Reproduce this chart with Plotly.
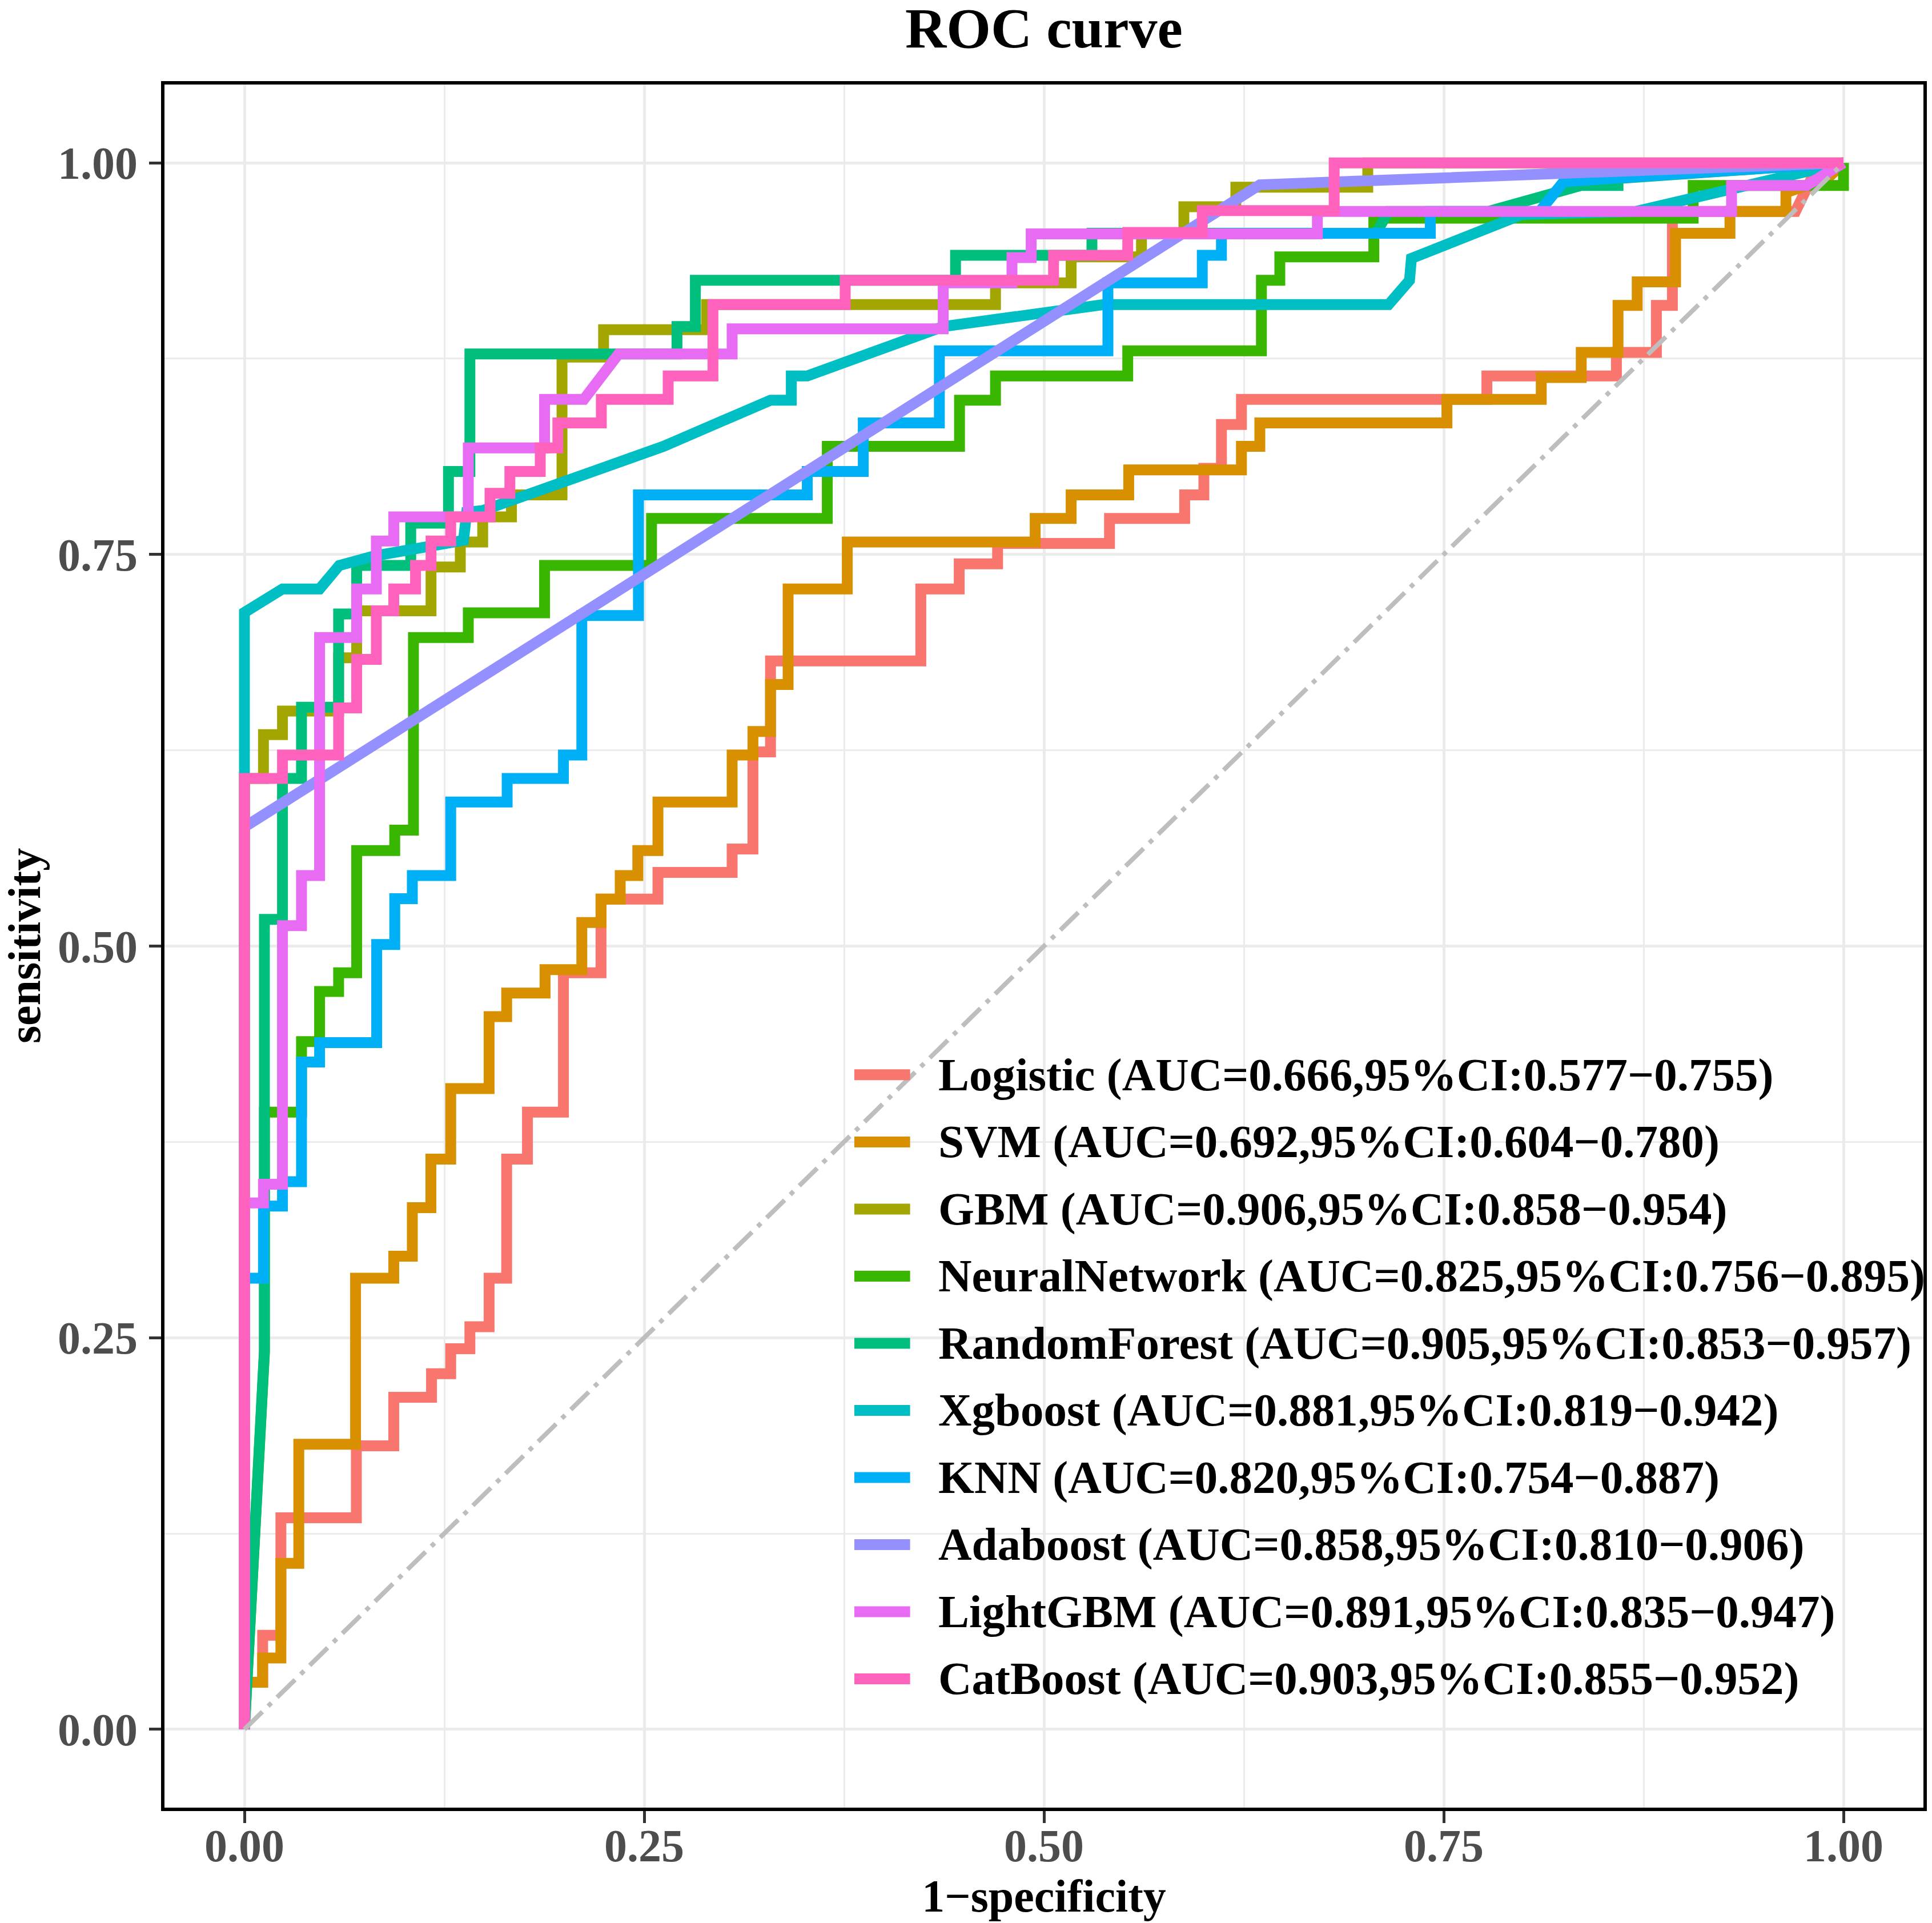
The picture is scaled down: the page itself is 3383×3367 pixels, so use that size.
import plotly.graph_objects as go

# ROC paths (1-specificity, sensitivity)
logistic_roc = [(0, 0), (0, 0.03), (0.0114, 0.03), (0.0114, 0.06), (0.0228, 0.06), (0.0228, 0.135),
                (0.070, 0.135), (0.070, 0.181), (0.0934, 0.181), (0.0934, 0.212), (0.117, 0.212),
                (0.117, 0.227), (0.129, 0.227), (0.129, 0.243), (0.141, 0.243), (0.141, 0.257),
                (0.153, 0.257), (0.153, 0.288), (0.164, 0.288), (0.164, 0.364), (0.177, 0.364),
                (0.177, 0.394), (0.1995, 0.394), (0.1995, 0.483), (0.223, 0.483), (0.223, 0.530),
                (0.2586, 0.530), (0.2586, 0.547), (0.305, 0.547), (0.305, 0.562), (0.318, 0.562),
                (0.318, 0.624), (0.329, 0.624), (0.329, 0.682), (0.423, 0.682), (0.423, 0.728),
                (0.447, 0.728), (0.447, 0.744), (0.471, 0.744), (0.471, 0.757), (0.541, 0.757),
                (0.541, 0.773), (0.588, 0.773), (0.588, 0.788), (0.600, 0.788), (0.600, 0.805),
                (0.611, 0.805), (0.611, 0.833), (0.6235, 0.833), (0.6235, 0.849), (0.777, 0.849),
                (0.777, 0.864), (0.858, 0.864), (0.858, 0.879), (0.883, 0.879), (0.883, 0.909),
                (0.893, 0.909), (0.893, 0.969), (0.97, 0.969), (0.98, 0.99), (1, 1)]

svm_roc = [(0, 0), (0, 0.03), (0.0114, 0.03), (0.0114, 0.0455), (0.0228, 0.0455), (0.0228, 0.106),
           (0.034, 0.106), (0.034, 0.182), (0.0695, 0.182), (0.0695, 0.288), (0.0934, 0.288),
           (0.0934, 0.302), (0.105, 0.302), (0.105, 0.333), (0.1166, 0.333), (0.1166, 0.364),
           (0.129, 0.364), (0.129, 0.409), (0.153, 0.409), (0.153, 0.455), (0.164, 0.455),
           (0.164, 0.470), (0.188, 0.470), (0.188, 0.485), (0.211, 0.485), (0.211, 0.515),
           (0.223, 0.515), (0.223, 0.530), (0.235, 0.530), (0.235, 0.545), (0.246, 0.545),
           (0.246, 0.561), (0.2586, 0.561), (0.2586, 0.592), (0.305, 0.592), (0.305, 0.622),
           (0.318, 0.622), (0.318, 0.637), (0.329, 0.637), (0.329, 0.667), (0.340, 0.667),
           (0.340, 0.728), (0.377, 0.728), (0.377, 0.758), (0.4945, 0.758), (0.4945, 0.773),
           (0.517, 0.773), (0.517, 0.788), (0.553, 0.788), (0.553, 0.804), (0.6235, 0.804),
           (0.6235, 0.819), (0.635, 0.819), (0.635, 0.834), (0.752, 0.834), (0.752, 0.849),
           (0.811, 0.849), (0.811, 0.863), (0.836, 0.863), (0.836, 0.879), (0.859, 0.879),
           (0.859, 0.909), (0.871, 0.909), (0.871, 0.924), (0.895, 0.924), (0.895, 0.955),
           (0.929, 0.955), (0.929, 0.969), (0.964, 0.969), (0.964, 0.981), (0.99, 0.99), (1, 1)]

gbm_roc = [(0, 0), (0, 0.607), (0.0119, 0.607), (0.0119, 0.635), (0.0238, 0.635), (0.0238, 0.65),
           (0.0589, 0.65), (0.0589, 0.684), (0.0702, 0.684), (0.0702, 0.714), (0.1167, 0.714),
           (0.1167, 0.742), (0.135, 0.742), (0.135, 0.758), (0.149, 0.758), (0.149, 0.774),
           (0.167, 0.774), (0.167, 0.788), (0.1986, 0.788), (0.1986, 0.876), (0.2246, 0.876),
           (0.2246, 0.8935), (0.289, 0.8935), (0.289, 0.9095), (0.4697, 0.9095), (0.4697, 0.9234),
           (0.517, 0.9234), (0.517, 0.94), (0.561, 0.94), (0.561, 0.955), (0.5875, 0.955),
           (0.5875, 0.972), (0.62, 0.972), (0.62, 0.9845), (0.7025, 0.9845), (0.7025, 1), (1, 1)]

nn_roc = [(0, 0), (0.0125, 0.24), (0.0125, 0.394), (0.0357, 0.394), (0.0357, 0.439), (0.047, 0.439),
          (0.047, 0.471), (0.0589, 0.471), (0.0589, 0.483), (0.0702, 0.483), (0.0702, 0.561),
          (0.094, 0.561), (0.094, 0.574), (0.1057, 0.574), (0.1057, 0.697), (0.140, 0.697),
          (0.140, 0.7127), (0.1877, 0.7127), (0.1877, 0.743), (0.2546, 0.743), (0.2546, 0.773),
          (0.3645, 0.773), (0.3645, 0.819), (0.4472, 0.819), (0.4472, 0.8485), (0.4697, 0.8485),
          (0.4697, 0.864), (0.5524, 0.864), (0.5524, 0.880), (0.636, 0.880), (0.636, 0.925),
          (0.6475, 0.925), (0.6475, 0.940), (0.7063, 0.940), (0.7063, 0.9647), (0.906, 0.9647),
          (0.906, 0.9856), (1, 0.9856), (1, 1)]

rf_roc = [(0, 0), (0.0125, 0.242), (0.0125, 0.517), (0.0238, 0.517), (0.0238, 0.607), (0.0357, 0.607),
          (0.0357, 0.6525), (0.0589, 0.6525), (0.0589, 0.712), (0.0702, 0.712), (0.0702, 0.743),
          (0.104, 0.743), (0.104, 0.77), (0.1276, 0.77), (0.1276, 0.803), (0.141, 0.803),
          (0.141, 0.878), (0.2705, 0.878), (0.2705, 0.8955), (0.282, 0.8955), (0.282, 0.925),
          (0.4447, 0.925), (0.4447, 0.941), (0.53, 0.941), (0.53, 0.955), (0.7076, 0.955),
          (0.7155, 0.969), (0.778, 0.969), (0.836, 0.9856), (0.859, 0.9856), (0.859, 0.99), (1, 1)]

xgb_roc = [(0, 0), (0, 0.713), (0.0238, 0.728), (0.047, 0.728), (0.0593, 0.743), (0.081, 0.749),
           (0.137, 0.759), (0.139, 0.777), (0.149, 0.778), (0.262, 0.819), (0.329, 0.8485),
           (0.342, 0.8485), (0.342, 0.864), (0.352, 0.864), (0.437, 0.8955), (0.5374, 0.9095),
           (0.7155, 0.9095), (0.7286, 0.925), (0.7298, 0.939), (0.799, 0.967), (0.87, 0.969),
           (0.966, 0.992), (1, 1)]

knn_roc = [(0, 0), (0, 0.288), (0.0119, 0.288), (0.0119, 0.334), (0.0238, 0.334), (0.0238, 0.3496),
           (0.0357, 0.3496), (0.0357, 0.426), (0.047, 0.426), (0.047, 0.4384), (0.0827, 0.4384),
           (0.0827, 0.501), (0.094, 0.501), (0.094, 0.5303), (0.105, 0.5303), (0.105, 0.545),
           (0.129, 0.545), (0.129, 0.592), (0.1643, 0.592), (0.1643, 0.607), (0.1995, 0.607),
           (0.1995, 0.622), (0.211, 0.622), (0.211, 0.711), (0.2464, 0.711), (0.2464, 0.788),
           (0.352, 0.788), (0.352, 0.803), (0.387, 0.803), (0.387, 0.834), (0.4346, 0.834),
           (0.4346, 0.880), (0.540, 0.880), (0.540, 0.9234), (0.599, 0.9234), (0.599, 0.941),
           (0.611, 0.941), (0.611, 0.955), (0.7416, 0.955), (0.7416, 0.969), (0.81, 0.969),
           (0.825, 0.988), (1, 1)]

ada_roc = [(0, 0), (0, 0.576), (0.635, 0.986), (1, 1)]

lgbm_roc = [(0, 0), (0, 0.336), (0.0119, 0.336), (0.0119, 0.348), (0.0238, 0.348), (0.0238, 0.513),
            (0.0357, 0.513), (0.0357, 0.545), (0.047, 0.545), (0.047, 0.697), (0.0702, 0.697),
            (0.0702, 0.728), (0.0825, 0.728), (0.0825, 0.7586), (0.0934, 0.7586), (0.0934, 0.774),
            (0.140, 0.774), (0.140, 0.818), (0.1877, 0.818), (0.1877, 0.849), (0.2123, 0.849),
            (0.2246, 0.864), (0.234, 0.878), (0.305, 0.878), (0.305, 0.894), (0.437, 0.894),
            (0.437, 0.9234), (0.48, 0.9234), (0.48, 0.9395), (0.492, 0.9395), (0.492, 0.9547),
            (0.671, 0.9547), (0.671, 0.969), (0.93, 0.969), (0.93, 0.9856), (0.977, 0.9856), (1, 1)]

catboost_roc = [(0, 0), (0, 0.607), (0.0238, 0.607), (0.0238, 0.622), (0.0589, 0.622), (0.0589, 0.652),
                (0.0702, 0.652), (0.0702, 0.683), (0.0825, 0.683), (0.0825, 0.714), (0.0934, 0.714),
                (0.0934, 0.728), (0.107, 0.728), (0.107, 0.743), (0.1167, 0.743), (0.1167, 0.7586),
                (0.129, 0.7586), (0.129, 0.774), (0.1536, 0.774), (0.1536, 0.789), (0.166, 0.789),
                (0.166, 0.803), (0.185, 0.803), (0.185, 0.818), (0.196, 0.818), (0.196, 0.834),
                (0.2232, 0.834), (0.2232, 0.849), (0.265, 0.849), (0.265, 0.864), (0.293, 0.864),
                (0.293, 0.9095), (0.3757, 0.9095), (0.3757, 0.925), (0.506, 0.925), (0.506, 0.941),
                (0.5524, 0.941), (0.5524, 0.9556), (0.599, 0.9556), (0.599, 0.9695), (0.6815, 0.9695),
                (0.6815, 1), (1, 1)]

model_names = ['Logistic', 'SVM', 'GBM', 'NeuralNetwork', 'RandomForest',
               'Xgboost', 'KNN', 'Adaboost', 'LightGBM', 'CatBoost']
auc_text = ['AUC=0.666,95%CI:0.577\u22120.755', 'AUC=0.692,95%CI:0.604\u22120.780',
            'AUC=0.906,95%CI:0.858\u22120.954', 'AUC=0.825,95%CI:0.756\u22120.895',
            'AUC=0.905,95%CI:0.853\u22120.957', 'AUC=0.881,95%CI:0.819\u22120.942',
            'AUC=0.820,95%CI:0.754\u22120.887', 'AUC=0.858,95%CI:0.810\u22120.906',
            'AUC=0.891,95%CI:0.835\u22120.947', 'AUC=0.903,95%CI:0.855\u22120.952']
colors = ['#F8766D', '#D89000', '#A3A500', '#39B600', '#00BF7D',
          '#00BFC4', '#00B0F6', '#9590FF', '#E76BF3', '#FF62BC']
curves = [logistic_roc, svm_roc, gbm_roc, nn_roc, rf_roc,
          xgb_roc, knn_roc, ada_roc, lgbm_roc, catboost_roc]

FONT = 'Liberation Serif, Times New Roman, serif'

fig = go.Figure()

for name, pts, color in zip(model_names, curves, colors):
    fpr, tpr = zip(*pts)
    fig.add_trace(go.Scatter(x=fpr, y=tpr, mode='lines', name=name,
                             line=dict(color=color, width=19), showlegend=False))

# chance line
fig.add_trace(go.Scatter(x=[0, 1], y=[0, 1], mode='lines', showlegend=False,
                         line=dict(color='#BEBEBE', width=8, dash='44px,14px,8px,14px')))

# legend drawn by hand so the key lines are as long as in the original
row_top = 0.4253
row_step = 0.03895
for i, (name, txt, color) in enumerate(zip(model_names, auc_text, colors)):
    yy = row_top - i * row_step
    fig.add_shape(type='line', xref='x domain', yref='y domain',
                  x0=0.3922, x1=0.4239, y0=yy, y1=yy,
                  line=dict(color=color, width=19))
    fig.add_annotation(xref='x domain', yref='y domain', x=0.4393, y=yy,
                       xanchor='left', yanchor='middle', showarrow=False,
                       text=f'{name} ({txt})',
                       font=dict(family=FONT, size=81, color='black', weight='bold'))

# y axis title placed by hand
fig.add_annotation(xref='paper', yref='paper', x=-0.0797, y=0.5, textangle=-90,
                   xanchor='center', yanchor='middle', showarrow=False,
                   text='sensitivity',
                   font=dict(family=FONT, size=80, color='black', weight='bold'))

axis_common = dict(
    range=[-0.05, 1.05], tick0=0, dtick=0.25, tickformat='.2f',
    showgrid=True, gridcolor='#EBEBEB', gridwidth=5,
    minor=dict(dtick=0.125, tick0=0, showgrid=True, gridcolor='#EBEBEB', gridwidth=3),
    zeroline=False, showline=True, mirror=True, linecolor='black', linewidth=6,
    ticks='outside', ticklen=21, tickwidth=5, tickcolor='#333333',
    tickfont=dict(family=FONT, size=80, color='#4D4D4D', weight='bold'),
)

fig.update_layout(
    width=3383, height=3367,
    margin=dict(l=280, r=23, t=140, b=210),
    plot_bgcolor='white', paper_bgcolor='white',
    title=dict(text='ROC curve', x=0.5, xref='paper', xanchor='center',
               y=1 - 40 / 3367, yref='container', yanchor='middle',
               font=dict(family=FONT, size=100, color='black', weight='bold')),
    xaxis=dict(axis_common, ticklabelstandoff=-29,
               title=dict(text='1\u2212specificity', standoff=8,
                          font=dict(family=FONT, size=80, color='black', weight='bold'))),
    yaxis=dict(axis_common, ticklabelstandoff=4),
    showlegend=False,
)

fig.write_html('out.html')
